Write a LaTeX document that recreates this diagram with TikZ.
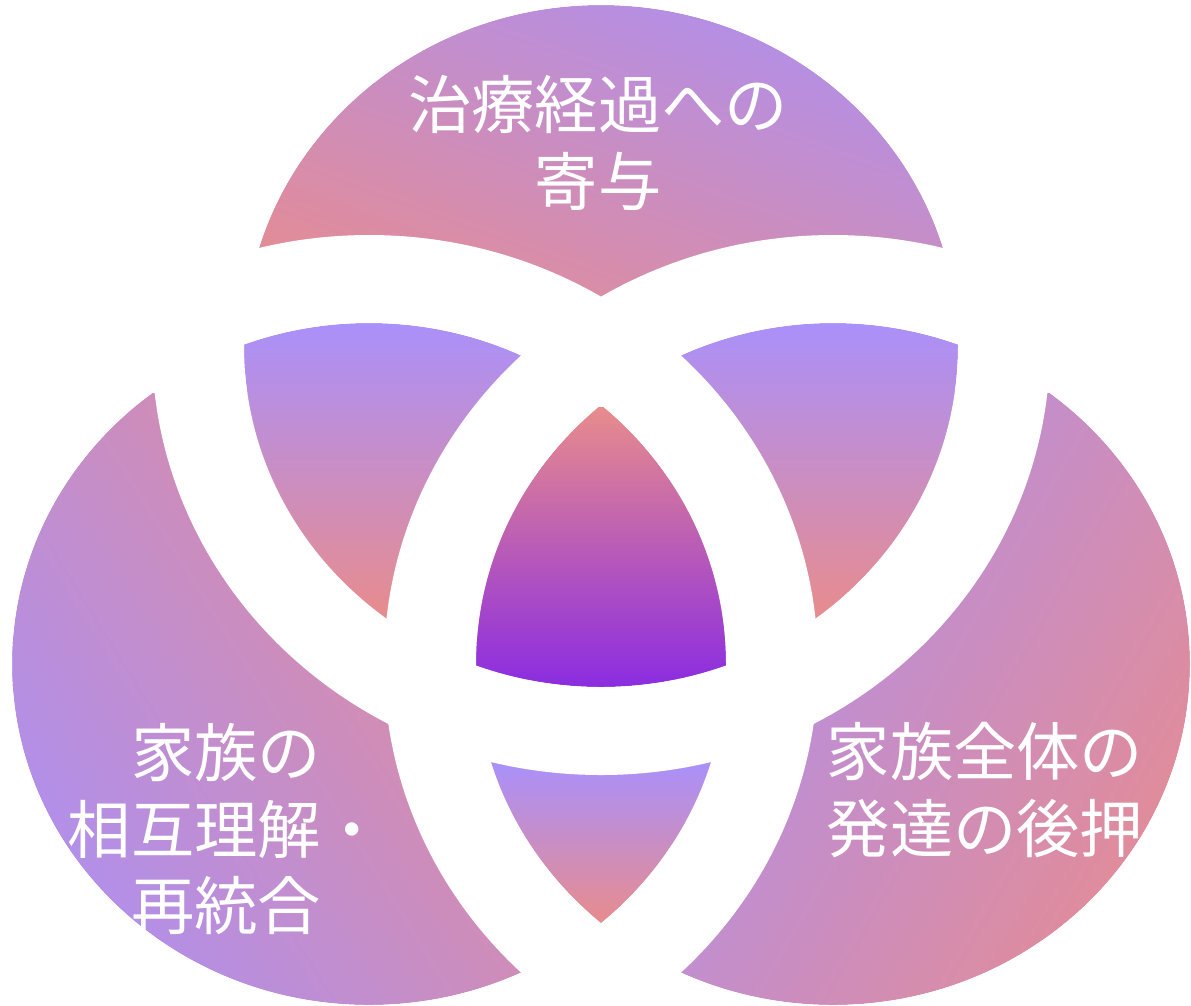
\documentclass[tikz,border=0pt]{standalone}
\usepackage{fontspec}
\newfontfamily\jpfont{Noto Sans CJK JP}
\definecolor{lavender}{RGB}{170,144,250}
\definecolor{outerlav}{RGB}{176,143,236}
\definecolor{salmon}{RGB}{232,140,140}
\definecolor{outerpink}{RGB}{226,140,152}
\definecolor{deepviolet}{RGB}{138,43,226}
\tikzset{
  disk/.style={x radius=357, y radius=341},
  ring/.style={x radius=449, y radius=429},
  gapring/.style={fill=white, even odd rule},
  softfade/.style={top color=lavender, bottom color=salmon},
  venntext/.style={text=white, align=center, inner sep=0pt, font=\jpfont\fontsize{18}{21.7}\selectfont}
}

\begin{document}
\begin{tikzpicture}[x=0.01cm, y=-0.01cm]
  \useasboundingbox (0,0) rectangle (1191,1005);
  \coordinate (cA) at (601,346);
  \coordinate (cB) at (369,664);
  \coordinate (cC) at (833,664);

  \begin{scope}
    \clip (cA) ellipse[disk];
    \shade[top color=outerlav, bottom color=outerpink, shading angle=-20] (244,5) rectangle (958,300);
  \end{scope}
  \begin{scope}
    \clip (cB) ellipse[disk];
    \shade[top color=outerpink, bottom color=outerlav, shading angle=-58] (12,393) rectangle (530,1005);
  \end{scope}
  \begin{scope}
    \clip (cC) ellipse[disk];
    \shade[top color=outerlav, bottom color=outerpink, shading angle=60] (672,393) rectangle (1190,1005);
  \end{scope}

  \begin{scope}
    \clip (cA) ellipse[disk];
    \clip (cB) ellipse[disk];
    \shade[softfade] (240,323) rectangle (530,620);
  \end{scope}
  \begin{scope}
    \clip (cA) ellipse[disk];
    \clip (cC) ellipse[disk];
    \shade[softfade] (672,323) rectangle (962,620);
  \end{scope}
  \begin{scope}
    \clip (cB) ellipse[disk];
    \clip (cC) ellipse[disk];
    \shade[softfade] (480,763) rectangle (722,925);
  \end{scope}
  \begin{scope}
    \clip (cA) ellipse[disk];
    \clip (cB) ellipse[disk];
    \clip (cC) ellipse[disk];
    \shade[top color=salmon, bottom color=deepviolet] (470,407) rectangle (732,690);
  \end{scope}

  \foreach \c in {cA,cB,cC}
    \path[gapring] (\c) ellipse[ring] (\c) ellipse[disk];

  \node[venntext] (topnote) at (598,143) {治療経過への\\寄与};
  \node[venntext] (leftnote) at (226,829) {家族の\\相互理解・\\再統合};
  \node[venntext] (rightnote) at (985,790) {家族全体の\\発達の後押};
\end{tikzpicture}
\end{document}
